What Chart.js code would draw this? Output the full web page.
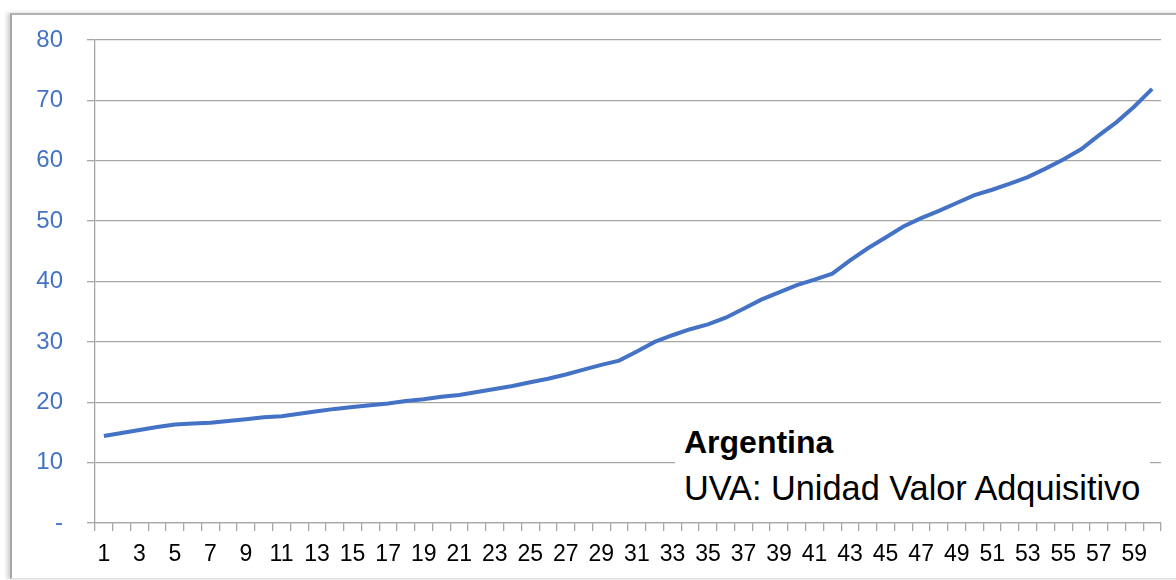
<!DOCTYPE html>
<html>
<head>
<meta charset="utf-8">
<script src="https://cdn.jsdelivr.net/npm/chart.js@4.4.1/dist/chart.umd.min.js"></script>
<style>
    html, body { margin: 0; padding: 0; background: #fff; }
    #wrap { position: relative; width: 1176px; height: 580px; overflow: hidden; }
    #frame {
        position: absolute; left: 10px; top: 13px; width: 1180px; height: 563px;
        border-top: 2px solid #b3b3b3; border-left: 2px solid #a6a6a6; border-bottom: 1px solid #e0e0e0;
        box-shadow: -3px 0 4px rgba(0, 0, 0, 0.18);
    }
    #myChart { position: absolute; left: 0; top: 0; }
    #note {
        position: absolute; left: 675px; top: 418px; width: 475px; height: 97px;
        background: #fff; font-family: "Liberation Sans", Arial, sans-serif; color: #000;
    }
    #note div { position: absolute; left: 9px; line-height: 32px; white-space: nowrap; }
</style>
</head>
<body>
<div id="wrap">
    <div id="frame"></div>
    <canvas id="myChart" width="1176" height="580"></canvas>
    <div id="note">
        <div style="top: 8px; font-size: 32px; font-weight: bold;">Argentina</div>
        <div style="top: 54px; font-size: 34.3px;">UVA: Unidad Valor Adquisitivo</div>
    </div>
</div>
<script>
var months = [];
for (var i = 1; i <= 60; i++) months.push(String(i));

var uva = [
    14.4, 14.9, 15.4, 15.9, 16.3, 16.5, 16.6, 16.9, 17.2, 17.5,
    17.7, 18.1, 18.5, 18.9, 19.2, 19.5, 19.8, 20.2, 20.5, 20.9,
    21.2, 21.7, 22.2, 22.7, 23.3, 23.9, 24.6, 25.4, 26.2, 26.9,
    28.4, 30.0, 31.1, 32.1, 32.9, 34.0, 35.5, 37.0, 38.2, 39.4,
    40.3, 41.3, 43.5, 45.5, 47.3, 49.1, 50.5, 51.7, 53.0, 54.3,
    55.2, 56.2, 57.3, 58.7, 60.2, 61.9, 64.2, 66.4, 69.0, 71.9
];

var yTicks = [0, 10, 20, 30, 40, 50, 60, 70, 80];

var gridGray = '#a6a6a6';
var ctx = document.getElementById('myChart').getContext('2d');
var chart = new Chart(ctx, {
    type: 'line',
    data: {
        labels: months,
        datasets: [{
            label: 'UVA',
            data: uva,
            borderColor: '#4472c4',
            borderWidth: 4,
            pointRadius: 0,
            tension: 0,
            fill: false
        }]
    },
    options: {
        responsive: false,
        animation: false,
        layout: { padding: { top: 40, right: 15, left: 0, bottom: 0 } },
        plugins: {
            legend: { display: false },
            tooltip: { enabled: false }
        },
        scales: {
            x: {
                offset: true,
                grid: {
                    offset: true,
                    drawOnChartArea: false,
                    drawTicks: true,
                    tickLength: 8,
                    color: gridGray,
                    lineWidth: 1.3
                },
                border: { display: true, color: gridGray, width: 1.3 },
                ticks: {
                    autoSkip: false,
                    maxRotation: 0,
                    padding: 10,
                    color: '#000',
                    font: { family: '"Liberation Sans", Arial, sans-serif', size: 23 },
                    callback: function (val, idx) {
                        return idx % 2 === 0 ? months[idx] : '';
                    }
                },
                afterFit: function (scale) { scale.height = 57; }
            },
            y: {
                min: yTicks[0],
                max: yTicks[yTicks.length - 1],
                afterBuildTicks: function (scale) {
                    scale.ticks = yTicks.map(function (v) { return { value: v }; });
                },
                grid: {
                    color: gridGray,
                    lineWidth: 1.3,
                    drawTicks: true,
                    tickLength: 8
                },
                border: { display: true, color: gridGray, width: 1.3 },
                ticks: {
                    padding: 24,
                    color: '#4472c4',
                    font: { family: '"Liberation Sans", Arial, sans-serif', size: 24 },
                    callback: function (v) { return v === 0 ? '-' : v; }
                },
                afterFit: function (scale) { scale.width = 95; }
            }
        }
    }
});
</script>
</body>
</html>
